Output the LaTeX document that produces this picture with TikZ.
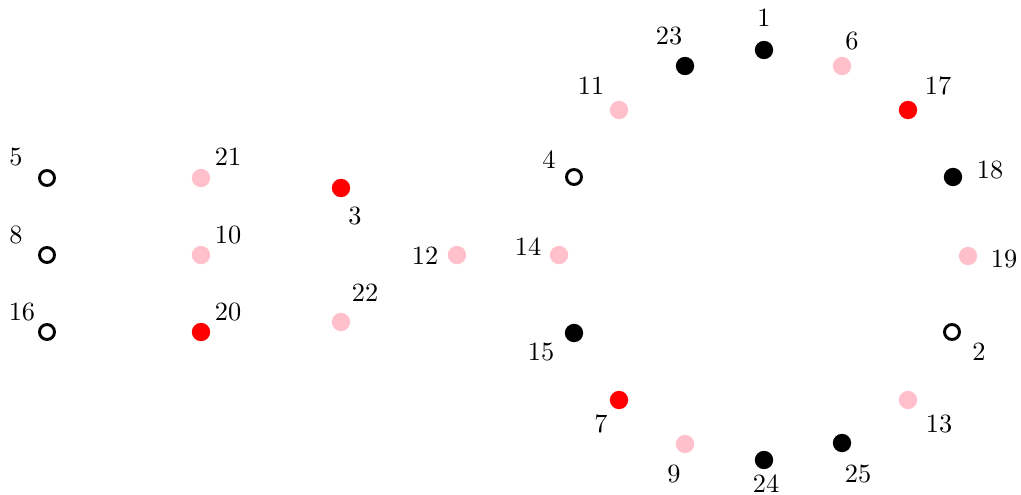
\documentclass[tikz,border=0pt]{standalone}
\usepackage{xcolor}
\usepackage{tikz}
\usetikzlibrary{positioning}

\definecolor{dotpink}{HTML}{FFC0CB}

\begin{document}
\begin{tikzpicture}[
        x=0.013333cm, y=-0.013333cm,
        fulldot/.style={circle, inner sep=0pt, minimum size=0.245cm},
        blackdot/.style={fulldot, fill=black},
        pinkdot/.style={fulldot, fill=dotpink},
        reddot/.style={fulldot, fill=red},
        opendot/.style={circle, draw=black, line width=1.1pt, fill=white, inner sep=0pt, minimum size=0.2cm},
        num/.style={inner sep=0pt}
    ]
        \useasboundingbox (0,0) rectangle (1021,495);

        % Left column
        \node (v5) [opendot] at (47,178) {};
        \node (v8) [opendot] at (47,255) {};
        \node (v16) [opendot] at (47,332) {};
        \node (l5) [num] at (16,157) {5};
        \node (l8) [num] at (16,235) {8};
        \node (l16) [num] at (22,312) {16};

        % Second column
        \node (v21) [pinkdot] at (201,178) {};
        \node (v10) [pinkdot] at (201,255) {};
        \node (v20) [reddot] at (201,332) {};
        \node (l21) [num] at (228,157) {21};
        \node (l10) [num] at (228,235) {10};
        \node (l20) [num] at (228,312) {20};

        % Middle
        \node (v3) [reddot] at (341,188) {};
        \node (v22) [pinkdot] at (341,322) {};
        \node (v12) [pinkdot] at (457,255) {};
        \node (l3) [num] at (355,216) {3};
        \node (l22) [num] at (365,293) {22};
        \node (l12) [num] at (425,256) {12};

        % Ring
        \node (v1) [blackdot] at (764,50) {};
        \node (v6) [pinkdot] at (842,66) {};
        \node (v17) [reddot] at (908,110) {};
        \node (v18) [blackdot] at (953,177) {};
        \node (v19) [pinkdot] at (968,256) {};
        \node (v2) [opendot] at (952,332) {};
        \node (v13) [pinkdot] at (908,400) {};
        \node (v25) [blackdot] at (842,443) {};
        \node (v24) [blackdot] at (764,460) {};
        \node (v9) [pinkdot] at (685,444) {};
        \node (v7) [reddot] at (619,400) {};
        \node (v15) [blackdot] at (574,333) {};
        \node (v14) [pinkdot] at (559,255) {};
        \node (v4) [opendot] at (574,177) {};
        \node (v11) [pinkdot] at (619,110) {};
        \node (v23) [blackdot] at (685,66) {};

        \node (l1) [num] at (764,18) {1};
        \node (l6) [num] at (852,41) {6};
        \node (l17) [num] at (938,86) {17};
        \node (l18) [num] at (990,170) {18};
        \node (l19) [num] at (1004,259) {19};
        \node (l2) [num] at (979,352) {2};
        \node (l13) [num] at (939,424) {13};
        \node (l25) [num] at (858,474) {25};
        \node (l24) [num] at (766,484) {24};
        \node (l9) [num] at (674,474) {9};
        \node (l7) [num] at (601,424) {7};
        \node (l15) [num] at (541,352) {15};
        \node (l14) [num] at (528,247) {14};
        \node (l4) [num] at (549,160) {4};
        \node (l11) [num] at (591,86) {11};
        \node (l23) [num] at (669,36) {23};
    \end{tikzpicture}
\end{document}
